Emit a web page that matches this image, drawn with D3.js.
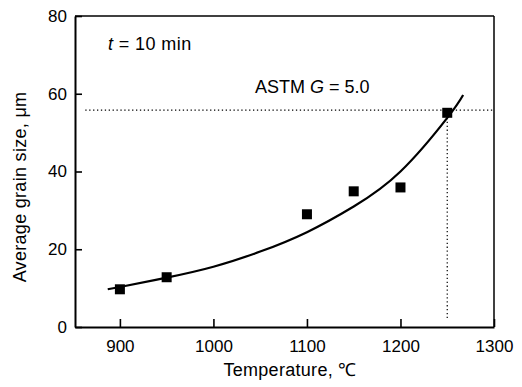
<!DOCTYPE html>
<html>
<head>
<meta charset="utf-8">
<script src="https://cdn.jsdelivr.net/npm/d3@7"></script>
<style>
  body { margin: 0; background: #fff; }
  svg { font-family: "Liberation Sans", Arial, sans-serif; }
</style>
</head>
<body>
<svg id="chart"></svg>
<script>
// measured points
const temps = [900, 950, 1100, 1150, 1200, 1250];
const sizes = [9.7, 12.8, 29, 34.9, 35.9, 55.1];

// fitted curve
const curveTemps = [887, 900, 950, 1000, 1050, 1100, 1150, 1200, 1250, 1267];
const curveSizes = [9.7, 10.3, 12.7, 15.5, 19.4, 24.4, 31, 40, 53.8, 59.7];

const xTicks = [900, 1000, 1100, 1200, 1300];
const yTicks = [0, 20, 40, 60, 80];

const astmSize = 55.8, astmTemp = 1250;

const WIDTH = 522, HEIGHT = 387;
const margin = { top: 16, bottom: 60, left: 75, right: 28 };
const width = WIDTH - margin.left - margin.right,
      height = HEIGHT - margin.top - margin.bottom;

const svg = d3.select("svg#chart")
                .attr("width", WIDTH)
                .attr("height", HEIGHT);

const g = svg.append("g")
                .attr("transform", `translate(${margin.left}, ${margin.top})`);

const xScale = d3.scaleLinear().domain([852, 1300]).range([0, width]);
const yScale = d3.scaleLinear().domain([0, 80]).range([height, 0]);

// frame: top and right thinner
g.append("line").attr("x1", 0).attr("x2", width).attr("y1", 0).attr("y2", 0)
    .attr("stroke", "#000").attr("stroke-width", 1.5);
g.append("line").attr("x1", width).attr("x2", width).attr("y1", 0).attr("y2", height)
    .attr("stroke", "#000").attr("stroke-width", 1.5);

const xAxis = g.append("g")
                .attr("transform", `translate(0, ${height})`)
                .call(d3.axisBottom(xScale).tickValues(xTicks).tickFormat(d3.format("d"))
                        .tickSizeInner(-8).tickSizeOuter(0).tickPadding(13));

const yAxis = g.append("g")
                .call(d3.axisLeft(yScale).tickValues(yTicks).tickFormat(d3.format("d"))
                        .tickSizeInner(-7).tickSizeOuter(0).tickPadding(8));

[xAxis, yAxis].forEach((ax) => {
    ax.select(".domain").attr("stroke", "#000").attr("stroke-width", 2);
    ax.selectAll(".tick line").attr("stroke", "#000").attr("stroke-width", 1.6);
    ax.selectAll(".tick text")
        .attr("fill", "#000")
        .style("font-size", "17px")
        .style("font-family", "'Liberation Sans', Arial, sans-serif");
});

// ASTM G = 5.0 guide lines
g.append("line")
    .attr("x1", xScale(863)).attr("x2", width)
    .attr("y1", yScale(astmSize)).attr("y2", yScale(astmSize))
    .attr("stroke", "#000").attr("stroke-width", 1.2)
    .attr("stroke-dasharray", "1.3,2.6");

g.append("line")
    .attr("x1", xScale(astmTemp)).attr("x2", xScale(astmTemp))
    .attr("y1", yScale(astmSize)).attr("y2", yScale(2))
    .attr("stroke", "#000").attr("stroke-width", 1.2)
    .attr("stroke-dasharray", "1.3,2.6");

// curve
const line = d3.line()
                .x((d) => xScale(d[0]))
                .y((d) => yScale(d[1]))
                .curve(d3.curveNatural);

g.append("path")
    .datum(d3.zip(curveTemps, curveSizes))
    .attr("d", line)
    .attr("fill", "none")
    .attr("stroke", "#000")
    .attr("stroke-width", 2.2);

// square markers
const s = 10;
g.selectAll("rect.pt")
    .data(d3.zip(temps, sizes))
    .join("rect")
    .attr("class", "pt")
    .attr("x", (d) => xScale(d[0]) - s / 2)
    .attr("y", (d) => yScale(d[1]) - s / 2)
    .attr("width", s)
    .attr("height", s)
    .attr("fill", "#000");

// annotations
const tLabel = g.append("text")
                .attr("x", 33).attr("y", 34)
                .style("font-size", "18px")
                .style("letter-spacing", "0.4px");
tLabel.append("tspan").attr("font-style", "italic").text("t");
tLabel.append("tspan").text(" = 10 min");

const astm = g.append("text")
                .attr("x", 180).attr("y", 77)
                .style("font-size", "18px");
astm.append("tspan").text("ASTM ");
astm.append("tspan").attr("font-style", "italic").text("G");
astm.append("tspan").text(" = 5.0");

// axis titles
svg.append("text")
    .attr("x", 290).attr("y", 376)
    .style("text-anchor", "middle")
    .style("font-size", "18px")
    .style("letter-spacing", "0.3px")
    .text("Temperature,  \u2103");

svg.append("text")
    .attr("transform", `translate(26, ${187}) rotate(-90)`)
    .style("text-anchor", "middle")
    .style("font-size", "18px")
    .style("letter-spacing", "0.3px")
    .text("Average grain size, \u03bcm");
</script>
</body>
</html>
